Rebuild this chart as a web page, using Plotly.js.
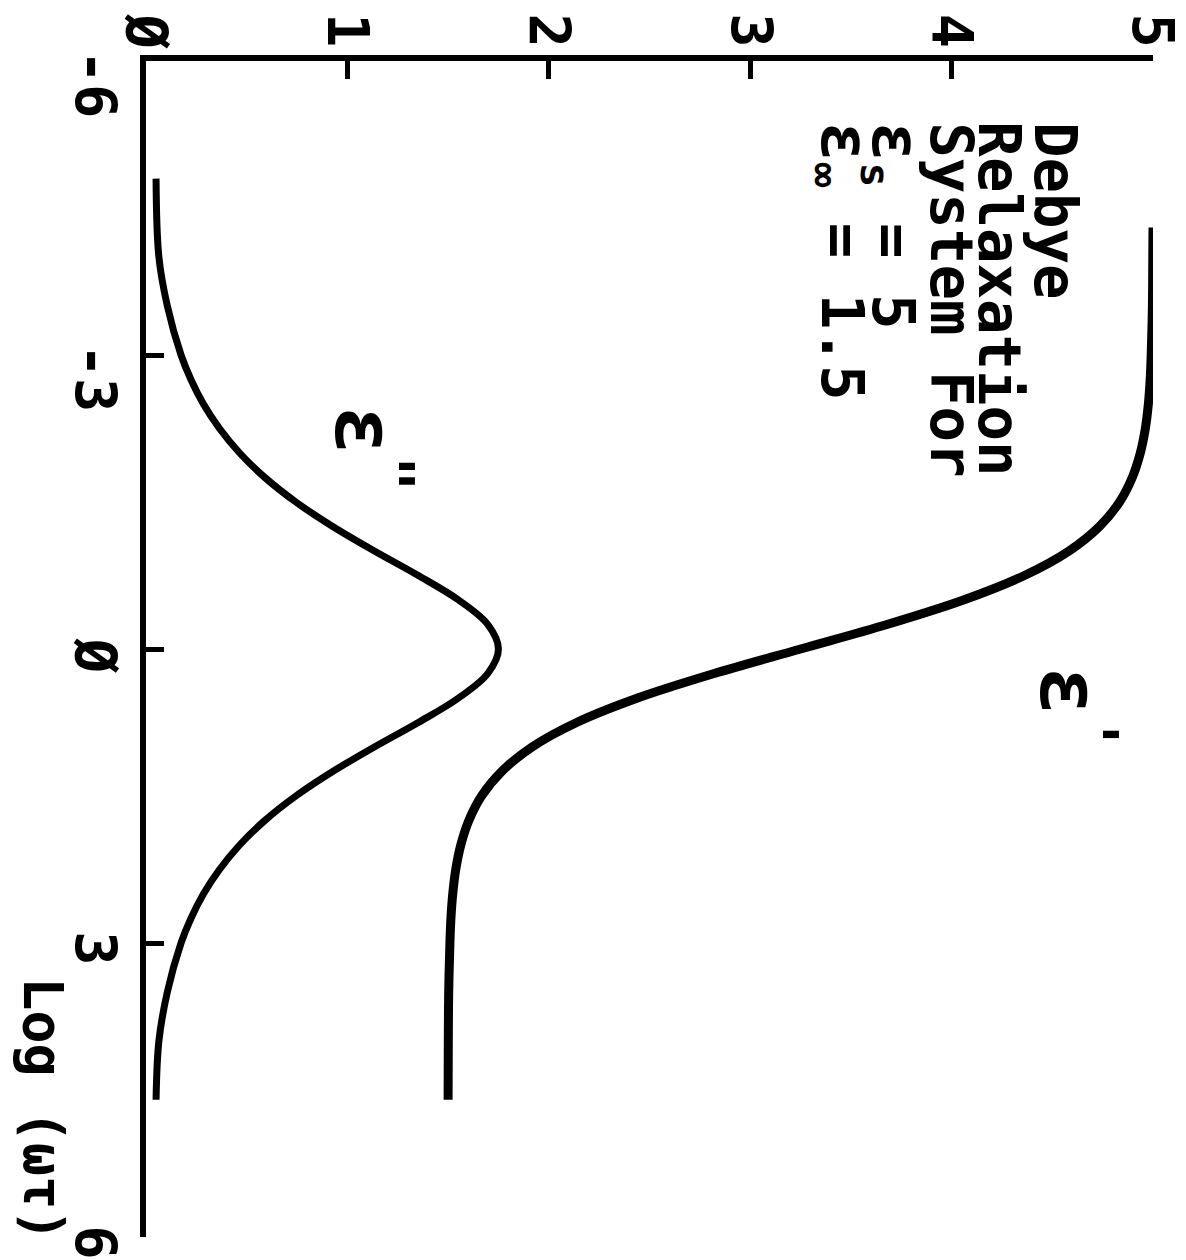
<!DOCTYPE html>
<html>
<head>
<meta charset="utf-8">
<script src="https://cdn.plot.ly/plotly-3.0.1.min.js"></script>
<style>
  html, body { margin: 0; padding: 0; background: #ffffff; }
  #chart { width: 1186px; height: 1260px; }
</style>
</head>
<body>
<div id="chart"></div>
<script>
// Debye relaxation: real and imaginary permittivity against log(ωτ)
// Real part ε'
const logWtRealPart = [-4.3, -4.0, -3.5, -3.0, -2.75, -2.5, -2.25, -2.0, -1.75, -1.5, -1.25, -1.0, -0.75, -0.5, -0.25,
  0, 0.25, 0.5, 0.75, 1.0, 1.25, 1.5, 1.75, 2.0, 2.25, 2.5, 2.75, 3.0, 3.5, 4.0, 4.6];
const epsReal = [5.0, 4.999, 4.997, 4.991, 4.986, 4.977, 4.962, 4.937, 4.897, 4.834, 4.734, 4.583, 4.362, 4.059, 3.679,
  3.25, 2.821, 2.441, 2.138, 1.917, 1.766, 1.666, 1.603, 1.563, 1.538, 1.523, 1.514, 1.509, 1.503, 1.501, 1.5];

// Imaginary part ε''
const logWtImagPart = [-4.8, -4.0, -3.5, -3.0, -2.75, -2.5, -2.25, -2.0, -1.75, -1.5, -1.25, -1.0, -0.75, -0.5, -0.25,
  0, 0.25, 0.5, 0.75, 1.0, 1.25, 1.5, 1.75, 2.0, 2.25, 2.5, 2.75, 3.0, 3.5, 4.0, 4.6];
const epsImag = [0.05, 0.064, 0.106, 0.174, 0.223, 0.285, 0.365, 0.465, 0.590, 0.744, 0.927, 1.134, 1.352, 1.552, 1.697,
  1.75, 1.697, 1.552, 1.352, 1.134, 0.927, 0.744, 0.590, 0.465, 0.365, 0.285, 0.223, 0.174, 0.106, 0.064, 0.05];

// Axis ticks
const epsTickVals = [0, 1, 2, 3, 4, 5];
const epsTickText = ['Ø', '1', '2', '3', '4', '5'];
const logTickVals = [-6, -3, 0, 3, 6];
const logTickText = ['-6', '-3', 'Ø', '3', '6'];

// Parameter note, one line per entry
const noteLines = [
  'Debye',
  'Relaxation',
  'System For',
  '<span style="font-size:68px">ε</span><sub>s</sub> = 5',
  '<span style="font-size:68px">ε</span><sub>∞</sub> = 1.5'
];
const noteX = [4.513, 4.240, 4.002, 3.71, 3.46];

const FONT = 'DejaVu Sans Mono, Liberation Mono, monospace';
const INK = '#000000';
const LOG_MIN = -6, LOG_MAX = 6;

const traces = [
  {
    x: epsReal, y: logWtRealPart, type: 'scatter', mode: 'lines',
    line: { color: INK, width: 9, shape: 'spline', smoothing: 1 },
    hoverinfo: 'skip', showlegend: false
  },
  {
    x: epsImag, y: logWtImagPart, type: 'scatter', mode: 'lines',
    line: { color: INK, width: 7, shape: 'spline', smoothing: 1 },
    hoverinfo: 'skip', showlegend: false
  }
];

const annotations = [];
const labelFont = { family: FONT, size: 57, color: INK, weight: 'bold' };

// ε tick labels across the top
epsTickVals.forEach((v, i) => {
  annotations.push({
    x: v, xref: 'x', y: 1.026, yref: 'paper',
    text: epsTickText[i], showarrow: false, textangle: 90,
    xanchor: 'center', yanchor: 'middle', font: labelFont
  });
});

// log(ωτ) tick labels down the left side, each starting just above its tick
logTickVals.forEach((v, i) => {
  annotations.push({
    x: -0.0506, xref: 'paper',
    y: (LOG_MAX - (v - 0.14)) / (LOG_MAX - LOG_MIN), yref: 'paper',
    text: logTickText[i], showarrow: false, textangle: 90,
    xanchor: 'center', yanchor: 'top', font: labelFont
  });
});

// axis title
annotations.push({
  x: -0.102, xref: 'paper', y: -0.006, yref: 'paper',
  text: 'Log (ωτ)', showarrow: false, textangle: 90,
  xanchor: 'center', yanchor: 'bottom',
  font: { family: FONT, size: 55, color: INK, weight: 'bold' }
});

// parameter note
noteLines.forEach((t, i) => {
  annotations.push({
    x: noteX[i], xref: 'x', y: -5.4, yref: 'y',
    text: t, showarrow: false, textangle: 90,
    xanchor: 'center', yanchor: 'top',
    font: { family: FONT, size: 59, color: INK, weight: 'bold' }
  });
});

// curve labels
annotations.push({
  x: 4.62, xref: 'x', y: 0.62, yref: 'y',
  text: 'ε<sup>\'</sup>', showarrow: false, textangle: 90,
  xanchor: 'center', yanchor: 'middle',
  font: { family: FONT, size: 84, color: INK, weight: 'bold' }
});
annotations.push({
  x: 1.12, xref: 'x', y: -2.05, yref: 'y',
  text: 'ε<sup>"</sup>', showarrow: false, textangle: 90,
  xanchor: 'center', yanchor: 'middle',
  font: { family: FONT, size: 84, color: INK, weight: 'bold' }
});

const layout = {
  width: 1186, height: 1260,
  margin: { l: 146, r: 33, t: 61, b: 23 },
  paper_bgcolor: '#ffffff', plot_bgcolor: '#ffffff',
  showlegend: false,
  xaxis: {
    range: [0, 5], side: 'top',
    showline: true, linecolor: INK, linewidth: 6,
    ticks: 'inside', ticklen: 18, tickwidth: 5, tickcolor: INK,
    tickvals: epsTickVals, showticklabels: false,
    showgrid: false, zeroline: false, fixedrange: true
  },
  yaxis: {
    range: [LOG_MAX, LOG_MIN],
    showline: true, linecolor: INK, linewidth: 6,
    ticks: 'inside', ticklen: 18, tickwidth: 5, tickcolor: INK,
    tickvals: logTickVals, showticklabels: false,
    showgrid: false, zeroline: false, fixedrange: true
  },
  annotations: annotations
};

Plotly.newPlot('chart', traces, layout, { staticPlot: true, displayModeBar: false });
</script>
</body>
</html>
